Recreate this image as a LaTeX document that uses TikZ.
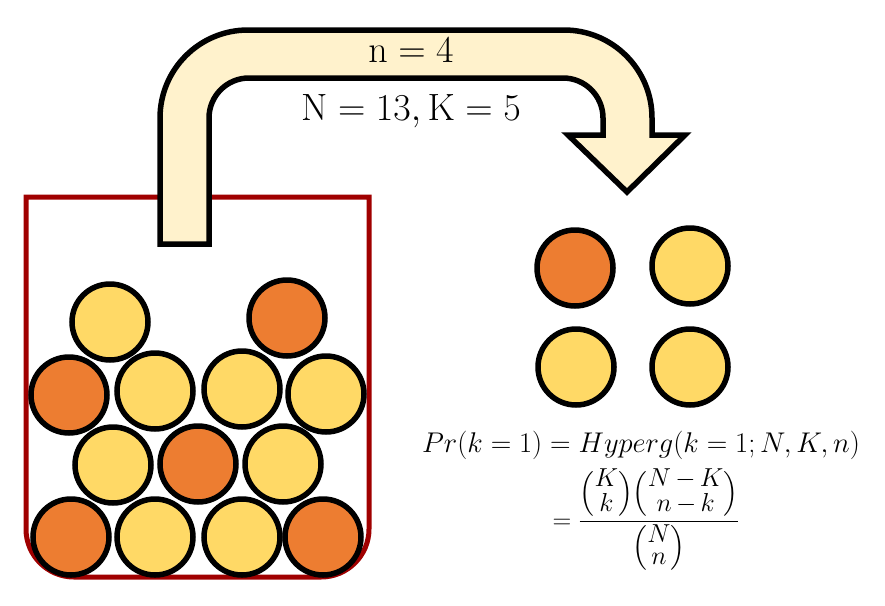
\RequirePackage{fix-cm}
\documentclass[tikz,border=0pt]{standalone}
\usepackage{amsmath}
\newcommand\bnm[2]{\left(\begin{array}{@{}c@{}}#1\\#2\end{array}\right)}
\begin{document}
\begin{tikzpicture}[x=1pt,y=-1pt,
  ball/.style={circle,draw=black,line width=5.5pt,minimum size=76pt,inner sep=0pt},
  orangeball/.style={ball,fill=ballorange},
  yellowball/.style={ball,fill=ballyellow},
  lbl/.style={inner sep=0pt,anchor=base,font=\fontsize{38}{44}\selectfont},
  formula/.style={inner sep=0pt,anchor=base,font=\fontsize{28.5}{34}\selectfont}]
\definecolor{ballorange}{HTML}{ED7D31}
\definecolor{ballyellow}{HTML}{FFD966}
\definecolor{arrowfill}{HTML}{FFF2CC}
\definecolor{jarred}{HTML}{A00000}
\useasboundingbox (0,0) rectangle (885,605);
% jar
\draw[jarred,line width=5pt,line join=miter]
  (26,197) -- (369,197) -- (369,529) arc[start angle=0,end angle=90,radius=48]
  -- (74,577) arc[start angle=90,end angle=180,radius=48] -- cycle;
% arrow
\draw[black,fill=arrowfill,line width=5.5pt,line join=miter]
  (160,244) -- (160,118) arc[start angle=180,end angle=270,radius=88]
  -- (564,30) arc[start angle=270,end angle=360,radius=88]
  -- (652,135) -- (685,135) -- (627,192) -- (568,135) -- (603,135)
  -- (603,118) arc[start angle=0,end angle=-90,radius=40]
  -- (249,78) arc[start angle=270,end angle=180,radius=40]
  -- (209,244) -- cycle;
\node[lbl] (nlabel) at (411,62) {$\mathrm{n}=4$};
\node[lbl] (NKlabel) at (411,120) {$\mathrm{N}=13,\mathrm{K}=5$};
% balls in the jar
\node[yellowball] (b1) at (110,322) {};
\node[orangeball] (b2) at (287,318) {};
\node[orangeball] (b3) at (69,395) {};
\node[yellowball] (b4) at (155,391) {};
\node[yellowball] (b5) at (242,389) {};
\node[yellowball] (b6) at (326,394) {};
\node[yellowball] (b7) at (113,465) {};
\node[orangeball] (b8) at (198,464) {};
\node[yellowball] (b9) at (283,464) {};
\node[orangeball] (b10) at (71,537) {};
\node[yellowball] (b11) at (155,537) {};
\node[yellowball] (b12) at (242,537) {};
\node[orangeball] (b13) at (323,537) {};
% drawn balls
\node[orangeball] (d1) at (575,268) {};
\node[yellowball] (d2) at (690,266) {};
\node[yellowball] (d3) at (576,367) {};
\node[yellowball] (d4) at (690,367) {};
% formula
\node[formula] (f1) at (641,452) {$Pr(k=1)=Hyperg(k=1;N,K,n)$};
\node[formula,font=\fontsize{26}{31}\selectfont] (f2) at (646,528)
  {\renewcommand\arraystretch{0.7}\medmuskip=3mu$\displaystyle=\frac{\bnm{K}{k}\!\bnm{N-K}{n-k}}{\bnm{N}{n}}$};
\end{tikzpicture}
\end{document}
